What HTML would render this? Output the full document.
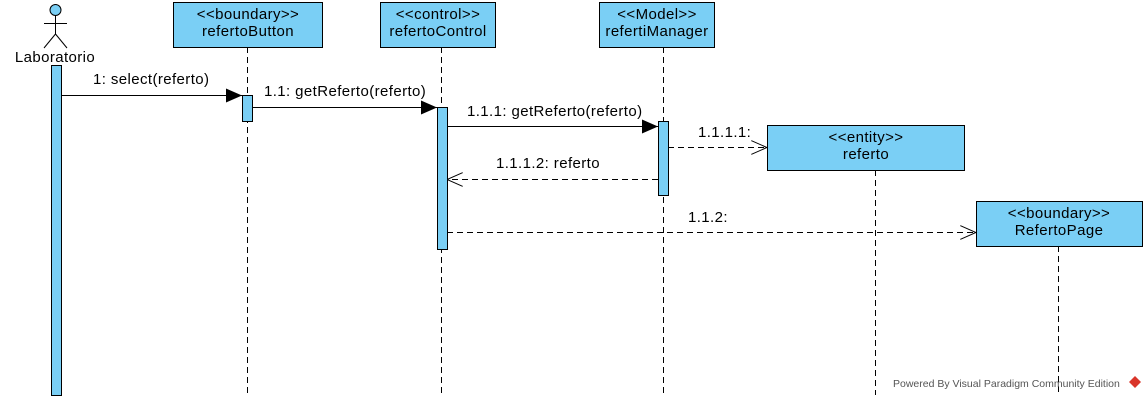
<!DOCTYPE html>
<html><head><meta charset="utf-8"><style>
html,body{margin:0;padding:0;background:#fff;}
svg{display:block;}
text{font-family:"Liberation Sans",sans-serif;font-size:15px;letter-spacing:0.4px;fill:#000;}
</style></head><body>
<svg width="1147" height="400" viewBox="0 0 1147 400" xmlns="http://www.w3.org/2000/svg">
<defs>
<marker id="fa" markerWidth="16" markerHeight="14" refX="16" refY="7" orient="auto" markerUnits="userSpaceOnUse"><path d="M0,0 L16,7 L0,14 Z" fill="#000"/></marker>
<marker id="oa" markerWidth="16" markerHeight="14" refX="16" refY="7" orient="auto" markerUnits="userSpaceOnUse"><path d="M0,0 L16,7 L0,14" fill="none" stroke="#000" stroke-width="1"/></marker>
</defs>
<g stroke="#000" stroke-width="1" stroke-dasharray="6,4" fill="none">
<line x1="247.5" y1="47" x2="247.5" y2="395"/>
<line x1="441.5" y1="47" x2="441.5" y2="395"/>
<line x1="663.5" y1="47" x2="663.5" y2="395"/>
<line x1="875.5" y1="170" x2="875.5" y2="395"/>
<line x1="1058.5" y1="246" x2="1058.5" y2="395"/>
</g>
<g stroke="#000" stroke-width="1" fill="none">
<circle cx="55.5" cy="10" r="5.5" fill="#7acff5"/>
<line x1="55.5" y1="15.5" x2="55.5" y2="34"/>
<line x1="44" y1="23.5" x2="67" y2="23.5"/>
<line x1="55.5" y1="34" x2="44" y2="48"/>
<line x1="55.5" y1="34" x2="67" y2="48"/>
</g>
<text x="55" y="62" text-anchor="middle">Laboratorio</text>
<g fill="#7acff5" stroke="#000" stroke-width="1">
<rect x="173.5" y="2.5" width="149" height="45"/>
<rect x="380.5" y="2.5" width="115" height="45"/>
<rect x="599.5" y="2.5" width="115" height="45"/>
<rect x="767.5" y="125.5" width="197" height="45"/>
<rect x="976.5" y="201.5" width="166" height="45"/>
<rect x="51.5" y="65.5" width="10" height="330"/>
<rect x="242.5" y="95.5" width="10" height="26"/>
<rect x="437.5" y="107.5" width="10" height="142"/>
<rect x="658.5" y="121.5" width="10" height="74"/>
</g>
<g text-anchor="middle">
<text x="248" y="19">&lt;&lt;boundary&gt;&gt;</text><text x="248" y="36">refertoButton</text>
<text x="438" y="19">&lt;&lt;control&gt;&gt;</text><text x="438" y="36">refertoControl</text>
<text x="657" y="19">&lt;&lt;Model&gt;&gt;</text><text x="657" y="36">refertiManager</text>
<text x="866" y="142">&lt;&lt;entity&gt;&gt;</text><text x="866" y="159">referto</text>
<text x="1059" y="218">&lt;&lt;boundary&gt;&gt;</text><text x="1059" y="235">RefertoPage</text>
</g>
<g stroke="#000" stroke-width="1" fill="none">
<line x1="61" y1="95.5" x2="242" y2="95.5" marker-end="url(#fa)"/>
<line x1="252" y1="107.5" x2="437" y2="107.5" marker-end="url(#fa)"/>
<line x1="447" y1="126.5" x2="658" y2="126.5" marker-end="url(#fa)"/>
<line x1="668" y1="147.5" x2="767" y2="147.5" stroke-dasharray="6,4" marker-end="url(#oa)"/>
<line x1="658" y1="179.5" x2="447" y2="179.5" stroke-dasharray="6,4" marker-end="url(#oa)"/>
<line x1="447" y1="232.5" x2="976" y2="232.5" stroke-dasharray="6,4" marker-end="url(#oa)"/>
</g>
<text x="93" y="84">1: select(referto)</text>
<text x="264" y="96">1.1: getReferto(referto)</text>
<text x="467" y="116">1.1.1: getReferto(referto)</text>
<text x="698" y="137">1.1.1.1:</text>
<text x="496" y="168">1.1.1.2: referto</text>
<text x="688" y="222">1.1.2:</text>
<text x="893" y="387" style="font-size:10.5px;letter-spacing:0px;fill:#555">Powered By Visual Paradigm Community Edition</text>
<path d="M1135,376 l6,6 -6,6 -6,-6 z" fill="#d9352a"/>
</svg>
</body></html>
